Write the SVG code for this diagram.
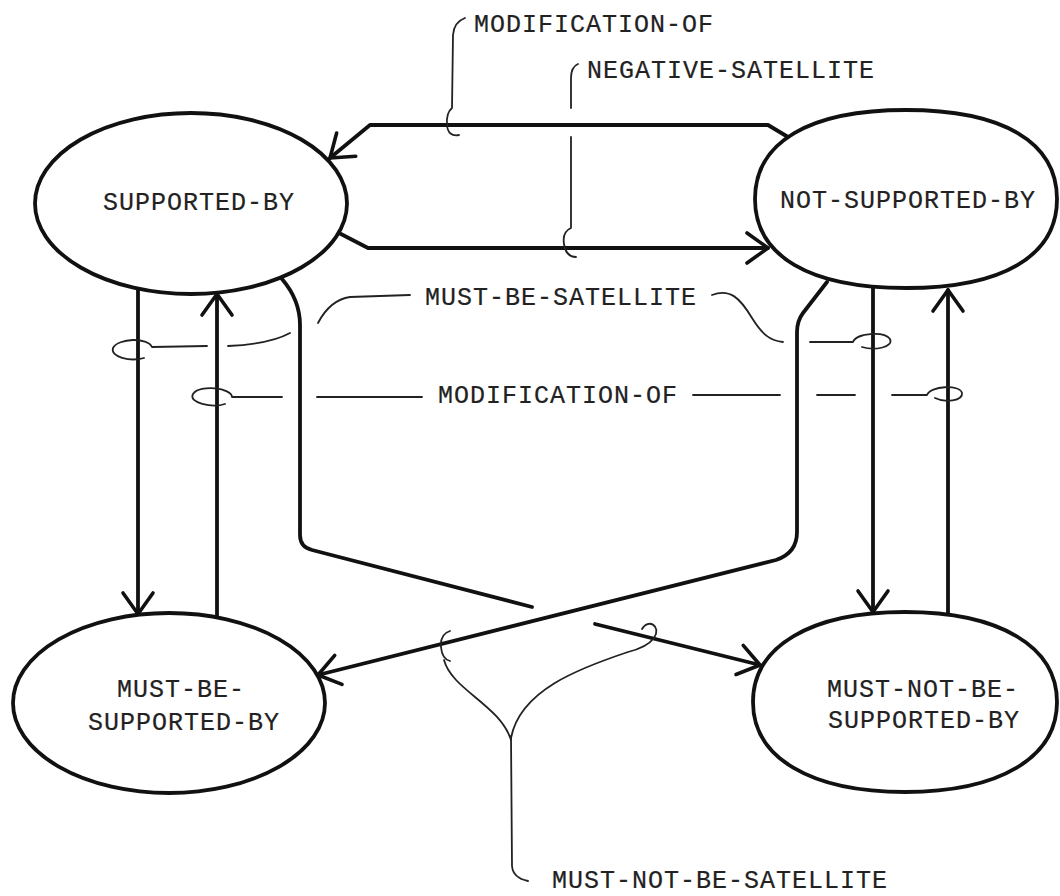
<svg xmlns="http://www.w3.org/2000/svg" width="1060" height="896" viewBox="0 0 1060 896">
  <style>
    .node { fill: #fff; stroke: #111; stroke-width: 3.8; }
    .lbl { font-family: "Liberation Mono", "DejaVu Sans Mono", monospace; font-size: 25px; letter-spacing: 1px; fill: #222; stroke: #222; stroke-width: 0.2; }
    .edge { fill: none; stroke: #111; stroke-width: 3.8; stroke-linecap: round; stroke-linejoin: round; }
    .tie { fill: none; stroke: #222; stroke-width: 1.8; stroke-linecap: round; stroke-linejoin: round; }
  </style>
  <defs>
    <marker id="arr" markerUnits="userSpaceOnUse" markerWidth="60" markerHeight="60" viewBox="-30 -30 60 60" refX="0" refY="0" orient="auto" overflow="visible">
      <path d="M-21,-15 L0,0 L-21,15" fill="none" stroke="#111" stroke-width="3.6" stroke-linecap="round" stroke-linejoin="round"/>
    </marker>
  </defs>
  <rect width="1060" height="896" fill="#fff"/>

  <!-- states -->
  <g id="supported-by">
    <ellipse class="node" cx="191" cy="203.5" rx="156" ry="90.5"/>
    <text class="lbl" x="103" y="210">SUPPORTED-BY</text>
  </g>
  <g id="not-supported-by">
    <path class="node" d="M755,199 C755,142 809.4,110 906,110 C1002.6,110 1057,142 1057,199 C1057,256 1002.6,288 906,288 C809.4,288 755,256 755,199 Z"/>
    <text class="lbl" x="780" y="208">NOT-SUPPORTED-BY</text>
  </g>
  <g id="must-be-supported-by">
    <ellipse class="node" cx="169" cy="703" rx="156" ry="90"/>
    <text class="lbl" x="117" y="697">MUST-BE-</text>
    <text class="lbl" x="88" y="730">SUPPORTED-BY</text>
  </g>
  <g id="must-not-be-supported-by">
    <path class="node" d="M753,702 C753,646.2 810.8,612 905,612 C999.2,612 1057,646.2 1057,702 C1057,757.8 999.2,792 905,792 C810.8,792 753,757.8 753,702 Z"/>
    <text class="lbl" x="827" y="697">MUST-NOT-BE-</text>
    <text class="lbl" x="828" y="728">SUPPORTED-BY</text>
  </g>

  <!-- transitions -->
  <g id="connectors">
    <path class="edge" d="M788,137 L768,125 L370,125 L330,158" marker-end="url(#arr)"/>
    <path class="edge" d="M339,233 L368,248 L768,248" marker-end="url(#arr)"/>
    <path class="edge" d="M138,290 L138,614" marker-end="url(#arr)"/>
    <path class="edge" d="M217,616 L217,294" marker-end="url(#arr)"/>
    <path class="edge" d="M873,288 L873,612" marker-end="url(#arr)"/>
    <path class="edge" d="M948,613 L948,290" marker-end="url(#arr)"/>
    <!-- SUPPORTED-BY to MUST-NOT-BE, broken where it passes under the other diagonal -->
    <path class="edge" d="M282,279 Q300,300 300,325 L300,535 Q300,547 312,550 L532,607"/>
    <path class="edge" d="M595,624 L760,665" marker-end="url(#arr)"/>
    <!-- NOT-SUPPORTED-BY to MUST-BE -->
    <path class="edge" d="M827,282 L803,313 Q797,321 797,332 L797,532 Q797,553 776,560 L318,675" marker-end="url(#arr)"/>
  </g>

  <!-- relation ties and their names -->
  <g id="annotations">
    <path class="tie" d="M465,18 Q454,22 453,35 L452,108 Q446,113 447,125 Q448,137 459,135"/>
    <text class="lbl" x="474" y="32">MODIFICATION-OF</text>

    <path class="tie" d="M578,64 Q571,67 571,78 L571,108 M571,137 L571,228 Q562,232 564,244 Q566,257 576,257"/>
    <text class="lbl" x="587" y="78">NEGATIVE-SATELLITE</text>

    <path class="tie" d="M207,346 L152,347 C148,337 118,338 113,348 C110,357 130,362 144,358"/>
    <path class="tie" d="M228,346 Q270,344 290,333"/>
    <path class="tie" d="M318,323 Q330,300 350,297 L410,295"/>
    <text class="lbl" x="425" y="305">MUST-BE-SATELLITE</text>
    <path class="tie" d="M712,295 C730,288 740,298 752,318 C762,334 770,341 783,342"/>
    <path class="tie" d="M810,342 L853,342 C856,333 884,331 890,339 C894,347 875,351 862,347"/>

    <path class="tie" d="M282,397 L232,397 C232,388 200,384 193,394 C188,403 212,408 225,404"/>
    <path class="tie" d="M317,397 L422,397"/>
    <text class="lbl" x="438" y="403">MODIFICATION-OF</text>
    <path class="tie" d="M693,395 L780,395 M817,395 L855,395"/>
    <path class="tie" d="M892,395 L927,395 C930,386 960,384 962,393 C963,401 945,403 935,398"/>

    <path class="tie" d="M450,631 Q440,634 441,647 Q442,659 450,661 M444,660 C452,690 500,705 511,740"/>
    <path class="tie" d="M642,629 C648,618 662,626 654,638 C648,646 636,650 628,652 C580,668 520,690 511,738"/>
    <path class="tie" d="M511,736 L512,866 Q513,878 528,881"/>
    <text class="lbl" x="552" y="888">MUST-NOT-BE-SATELLITE</text>
  </g>
</svg>
